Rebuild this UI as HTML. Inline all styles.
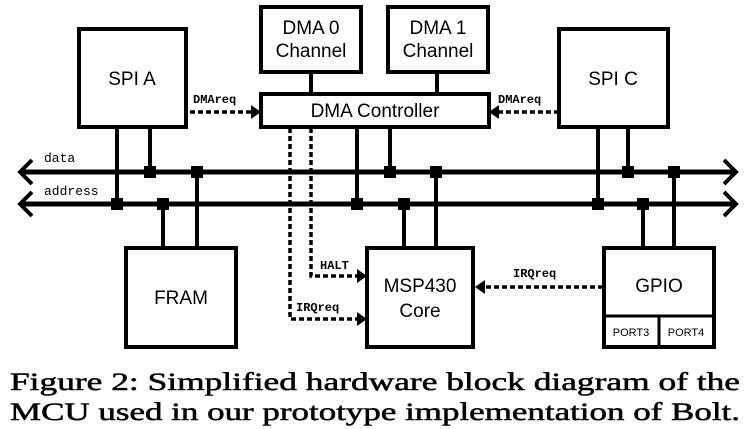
<!DOCTYPE html>
<html><head><meta charset="utf-8"><style>
html,body{margin:0;padding:0;background:#fff;width:747px;height:429px;overflow:hidden}
svg{display:block}
.b{fill:#fff;stroke:#000;stroke-width:4}
.t{font-family:"Liberation Sans",sans-serif;font-size:19px;text-anchor:middle}
.m{font-family:"Liberation Mono",monospace;font-size:12px;font-weight:bold}
.d{stroke:#000;stroke-width:3.5;stroke-dasharray:5,3;fill:none}
.c{stroke:#000;stroke-width:4;fill:none}
.cap{font-family:"Liberation Serif",serif;font-size:25px;stroke:#000;stroke-width:0.5}
</style></head><body>
<svg width="747" height="429" viewBox="0 0 747 429">
<line x1="22" y1="172" x2="734" y2="172" stroke="#000" stroke-width="5"/>
<line x1="22" y1="204" x2="734" y2="204" stroke="#000" stroke-width="5"/>
<polyline points="32,160 20,172 32,184" class="c" stroke-width="5"/>
<polyline points="32,192 20,204 32,216" class="c" stroke-width="5"/>
<polyline points="724,160 736,172 724,184" class="c" stroke-width="5"/>
<polyline points="724,192 736,204 724,216" class="c" stroke-width="5"/>
<text x="44" y="162" class="m" style="font-weight:normal;font-size:13px">data</text>
<text x="44" y="195" class="m" style="font-weight:normal;font-size:13px">address</text>
<g class="c">
<line x1="117" y1="127" x2="117" y2="204"/><line x1="150" y1="127" x2="150" y2="172"/>
<line x1="197" y1="172" x2="197" y2="248"/><line x1="163" y1="204" x2="163" y2="248"/>
<line x1="357" y1="127" x2="357" y2="204"/><line x1="390" y1="127" x2="390" y2="172"/>
<line x1="436" y1="172" x2="436" y2="248"/><line x1="404" y1="204" x2="404" y2="248"/>
<line x1="598" y1="127" x2="598" y2="204"/><line x1="628" y1="127" x2="628" y2="172"/>
<line x1="674" y1="172" x2="674" y2="248"/><line x1="643" y1="204" x2="643" y2="248"/>
<line x1="311" y1="72" x2="311" y2="94"/><line x1="437" y1="72" x2="437" y2="94"/>
</g>
<g fill="#000">
<rect x="144" y="166" width="12" height="12"/><rect x="111" y="198" width="12" height="12"/>
<rect x="191" y="166" width="12" height="12"/><rect x="157" y="198" width="12" height="12"/>
<rect x="384" y="166" width="12" height="12"/><rect x="351" y="198" width="12" height="12"/>
<rect x="430" y="166" width="12" height="12"/><rect x="398" y="198" width="12" height="12"/>
<rect x="622" y="166" width="12" height="12"/><rect x="592" y="198" width="12" height="12"/>
<rect x="668" y="166" width="12" height="12"/><rect x="637" y="198" width="12" height="12"/>
</g>
<rect class="b" x="79" y="29" width="107" height="98"/><text class="t" x="132" y="85">SPI A</text>
<rect class="b" x="261" y="7" width="100" height="65"/><text class="t" x="311" y="34">DMA 0</text><text class="t" x="311" y="57">Channel</text>
<rect class="b" x="388" y="7" width="100" height="65"/><text class="t" x="438" y="34">DMA 1</text><text class="t" x="438" y="57">Channel</text>
<rect class="b" x="261" y="94" width="228" height="33"/><text class="t" x="375" y="117">DMA Controller</text>
<rect class="b" x="559" y="29" width="109" height="98"/><text class="t" x="613" y="85">SPI C</text>
<rect class="b" x="126" y="248" width="110" height="99"/><text class="t" x="181" y="304">FRAM</text>
<rect class="b" x="367" y="248" width="106" height="99"/><text class="t" x="420" y="292">MSP430</text><text class="t" x="420" y="317">Core</text>
<rect class="b" x="604" y="248" width="110" height="99"/><text class="t" x="659" y="292">GPIO</text>
<line x1="604" y1="316" x2="714" y2="316" stroke="#000" stroke-width="3"/>
<line x1="659" y1="316" x2="659" y2="347" stroke="#000" stroke-width="3"/>
<text x="631" y="336" style="font-family:'Liberation Sans',sans-serif;font-size:11px;text-anchor:middle">PORT3</text>
<text x="686" y="336" style="font-family:'Liberation Sans',sans-serif;font-size:11px;text-anchor:middle">PORT4</text>
<line class="d" x1="190" y1="112" x2="252" y2="112"/><polygon points="251,105 261,112 251,119"/>
<text class="m" x="193" y="103">DMAreq</text>
<line class="d" x1="559" y1="112" x2="498" y2="112"/><polygon points="499,105 489,112 499,119"/>
<text class="m" x="498" y="103">DMAreq</text>
<polyline class="d" points="311,128 311,276 358,276"/><polygon points="357,269 367,276 357,283"/>
<text class="m" x="320" y="269">HALT</text>
<polyline class="d" points="290,128 290,319 358,319"/><polygon points="357,312 367,319 357,326"/>
<text class="m" x="296" y="311">IRQreq</text>
<line class="d" x1="603" y1="287" x2="484" y2="287"/><polygon points="485,280 475,287 485,294"/>
<text class="m" x="513" y="277">IRQreq</text>
<text class="cap" x="10" y="390" textLength="730" lengthAdjust="spacingAndGlyphs">Figure 2: Simplified hardware block diagram of the</text>
<text class="cap" x="10" y="420" textLength="730" lengthAdjust="spacingAndGlyphs">MCU used in our prototype implementation of Bolt.</text>
</svg>
</body></html>
